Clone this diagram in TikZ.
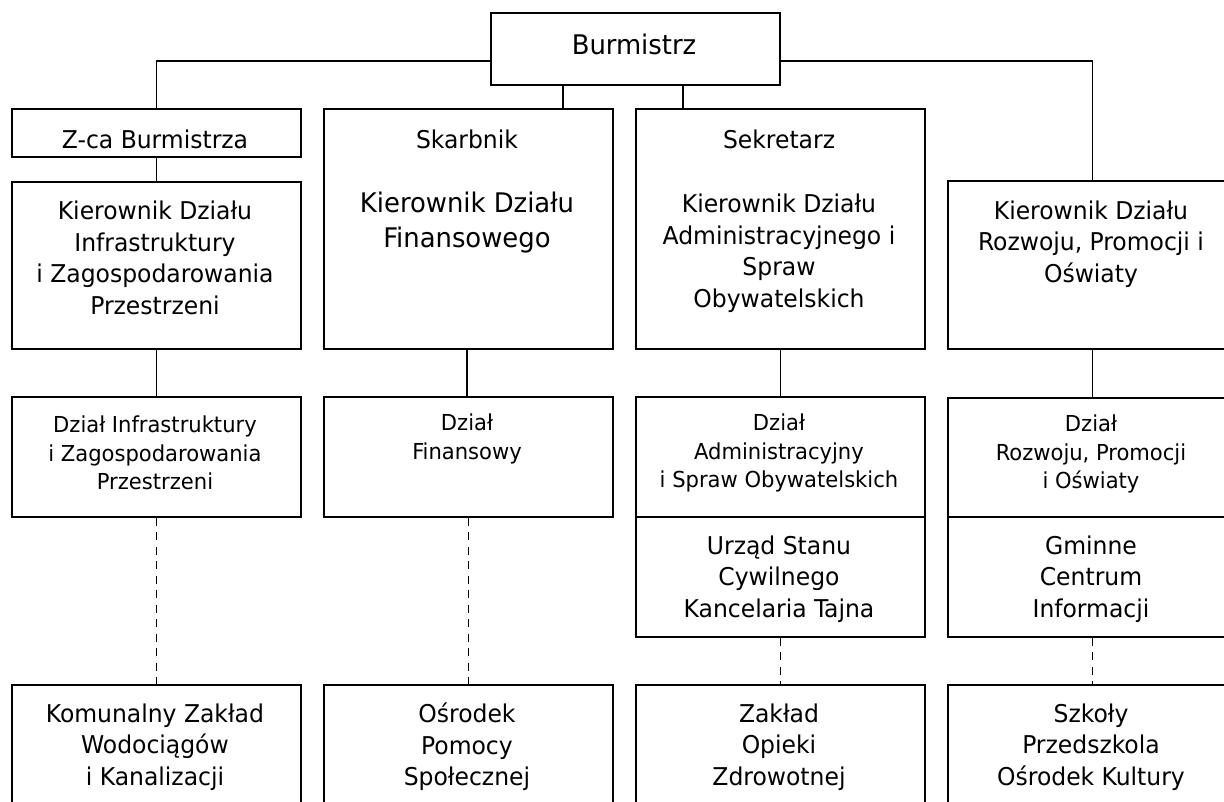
\documentclass[tikz,border=0pt]{standalone}
\usepackage{fontspec}
\setmainfont{DejaVu Sans Condensed}[FakeStretch=1.065]
\begin{document}
\begin{tikzpicture}[x=1pt,y=-1pt,line width=1.7pt,
    box/.style={draw,anchor=north west,inner sep=0pt,minimum width=289pt},
    txt/.style={align=center,inner sep=0pt,font=\fontsize{24.5}{31.5}\selectfont},
    bigtxt/.style={align=center,inner sep=0pt,font=\fontsize{27}{35}\selectfont},
    smalltxt/.style={align=center,inner sep=0pt,font=\fontsize{22}{28.5}\selectfont},
    dashlink/.style={dash pattern=on 8pt off 6.5pt}]
    \useasboundingbox (0,0) rectangle (1224,801);
    \clip (0,0) rectangle (1224,801);
    % boxes
    \node[box,minimum height=72pt]  (burm)  at (490,12)  {};
    \node[box,minimum height=48pt]  (zca)   at (11,108)  {};
    \node[box,minimum height=167pt] (kinf)  at (11,181)  {};
    \node[box,minimum height=240pt] (skarb) at (323,108) {};
    \node[box,minimum height=240pt] (sekr)  at (635,108) {};
    \node[box,minimum height=168pt] (kroz)  at (947,180) {};
    \node[box,minimum height=120pt] (dinf)  at (11,396)  {};
    \node[box,minimum height=120pt] (dfin)  at (323,396) {};
    \node[box,minimum height=120pt] (dadm)  at (635,396) {};
    \node[box,minimum height=120pt] (usc)   at (635,516) {};
    \node[box,minimum height=119pt] (droz)  at (947,397) {};
    \node[box,minimum height=120pt] (gci)   at (947,516) {};
    \node[box,minimum height=140pt] (komun) at (11,684)  {};
    \node[box,minimum height=140pt] (ops)   at (323,684) {};
    \node[box,minimum height=140pt] (zoz)   at (635,684) {};
    \node[box,minimum height=140pt] (szk)   at (947,684) {};
    % texts
    \node[bigtxt] (burmT)  at (634,44)  {Burmistrz};
    \node[txt]    (zcaT)   at (155,139) {Z-ca Burmistrza};
    \node[txt]    (kinfT)  at (155,258) {Kierownik Działu\\Infrastruktury\\i Zagospodarowania\\Przestrzeni};
    \node[txt]    (skarbT) at (467,139) {Skarbnik};
    \node[bigtxt] (kfinT)  at (467,223) {Kierownik Działu\\Finansowego};
    \node[txt]    (sekrT)  at (779,139) {Sekretarz};
    \node[txt]    (kadmT)  at (779,253) {Kierownik Działu\\Administracyjnego i\\Spraw\\Obywatelskich};
    \node[txt]    (krozT)  at (1091,244) {Kierownik Działu\\Rozwoju, Promocji i\\Oświaty};
    \node[smalltxt] (dinfT) at (155,453) {Dział Infrastruktury\\i Zagospodarowania\\Przestrzeni};
    \node[smalltxt] (dfinT) at (467,439) {Dział\\Finansowy};
    \node[smalltxt] (dadmT) at (779,453) {Dział\\Administracyjny\\i Spraw Obywatelskich};
    \node[smalltxt] (drozT) at (1091,454) {Dział\\Rozwoju, Promocji\\i Oświaty};
    \node[txt]    (uscT)   at (779,579) {Urząd Stanu\\Cywilnego\\Kancelaria Tajna};
    \node[txt]    (gciT)   at (1091,579) {Gminne\\Centrum\\Informacji};
    \node[txt]    (komunT) at (155,747) {Komunalny Zakład\\Wodociągów\\i Kanalizacji};
    \node[txt]    (opsT)   at (467,747) {Ośrodek\\Pomocy\\Społecznej};
    \node[txt]    (zozT)   at (779,747) {Zakład\\Opieki\\Zdrowotnej};
    \node[txt]    (szkT)   at (1091,747) {Szkoły\\Przedszkola\\Ośrodek Kultury};
    % links
    \coordinate (hl) at (0,61);
    \coordinate (b1) at (563,0);
    \coordinate (b2) at (683,0);
    \coordinate (s1) at (467,0);
    \draw (zca.north) |- (burm.west |- hl);
    \draw (burm.east |- hl) -| (kroz.north);
    \draw (burm.south -| b1) -- (skarb.north -| b1);
    \draw (burm.south -| b2) -- (sekr.north -| b2);
    \draw (zca.south) -- (kinf.north);
    \draw (kinf.south) -- (dinf.north);
    \draw (skarb.south -| s1) -- (dfin.north -| s1);
    \draw (sekr.south) -- (dadm.north);
    \draw (kroz.south) -- (droz.north);
    \begin{scope}[dashlink]
        \draw (dinf.south) -- (komun.north);
        \draw (dfin.south) -- (ops.north);
        \draw (usc.south) -- (zoz.north);
        \draw (gci.south) -- (szk.north);
    \end{scope}
\end{tikzpicture}
\end{document}
